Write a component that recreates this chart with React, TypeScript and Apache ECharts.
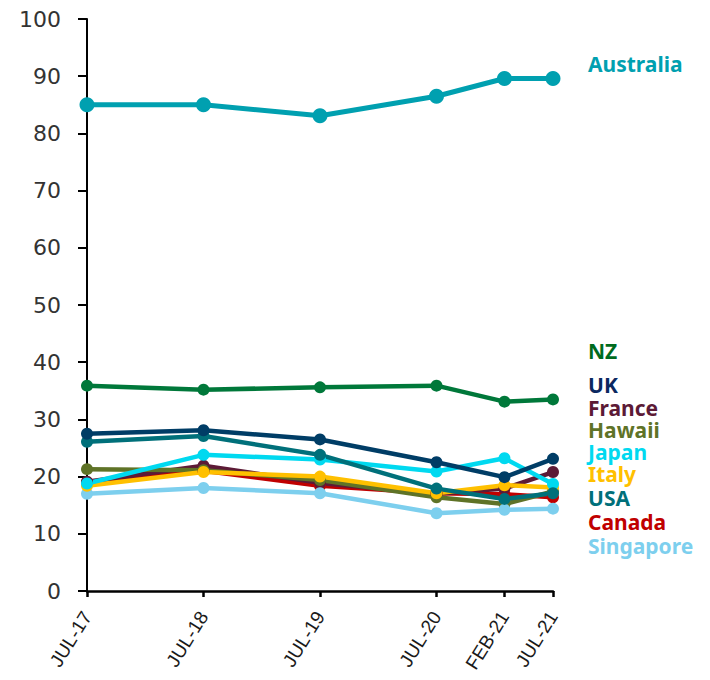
import React, { useEffect, useRef } from "react";
import * as echarts from "echarts";

// month offsets from Jul-17 for each observation
const monthIndex = [0, 12, 24, 36, 43, 48];
const tickLabels = ["JUL-17", "JUL-18", "JUL-19", "JUL-20", "FEB-21", "JUL-21"];

const australia = [85.0, 85.0, 83.1, 86.5, 89.6, 89.6];
const nz = [35.9, 35.2, 35.6, 35.9, 33.1, 33.5];
const uk = [27.5, 28.1, 26.5, 22.5, 19.9, 23.1];
const france = [19.1, 21.9, 18.9, 17.0, 17.9, 20.8];
const hawaii = [21.3, 21.1, 19.4, 16.4, 15.2, 17.4];
const japan = [18.8, 23.8, 23.0, 20.9, 23.2, 18.7];
const italy = [18.4, 20.8, 20.0, 17.1, 18.5, 18.1];
const usa = [26.1, 27.1, 23.8, 17.9, 16.1, 17.1];
const canada = [19.0, 21.0, 18.4, 17.1, 16.9, 16.4];
const singapore = [17.0, 18.0, 17.1, 13.6, 14.2, 14.4];

const seriesDefs = [
  { name: "Canada", data: canada, color: "#C00000" },
  { name: "France", data: france, color: "#5C1A36" },
  { name: "Hawaii", data: hawaii, color: "#5F7327" },
  { name: "Singapore", data: singapore, color: "#7DCFEE" },
  { name: "Italy", data: italy, color: "#FFC000" },
  { name: "Japan", data: japan, color: "#00D9F0" },
  { name: "USA", data: usa, color: "#00707A" },
  { name: "UK", data: uk, color: "#003D66" },
  { name: "NZ", data: nz, color: "#00783A" },
  { name: "Australia", data: australia, color: "#00A0B0" },
];

const labelDefs = [
  { name: "Australia", y: 64, color: "#00A0B0" },
  { name: "NZ", y: 351, color: "#006B1E" },
  { name: "UK", y: 385, color: "#0B2860" },
  { name: "France", y: 408, color: "#5C1A36" },
  { name: "Hawaii", y: 430, color: "#5F7327" },
  { name: "Japan", y: 452, color: "#00D9F0" },
  { name: "Italy", y: 474, color: "#FFC000" },
  { name: "USA", y: 498, color: "#00707A" },
  { name: "Canada", y: 522, color: "#C00000" },
  { name: "Singapore", y: 546, color: "#7DCFEE" },
];

const monthsTotal = 49;

export default function App() {
  const ref = useRef<HTMLDivElement>(null);
  useEffect(() => {
    document.body.style.margin = "0";
    if (!ref.current) return;
    const chart = echarts.init(ref.current, undefined, { renderer: "svg" });
    const cats: string[] = [];
    for (let i = 0; i < monthsTotal; i++) {
      const k = monthIndex.indexOf(i);
      cats.push(k >= 0 ? tickLabels[k] : "m" + i);
    }
    const isTick = (i: number) => monthIndex.indexOf(i) >= 0;
    const series = seriesDefs.map((s) => {
      const arr: (number | null)[] = new Array(monthsTotal).fill(null);
      monthIndex.forEach((m, j) => (arr[m] = s.data[j]));
      const big = s.name === "Australia";
      return {
        type: "line",
        name: s.name,
        data: arr,
        connectNulls: true,
        symbol: "circle",
        symbolSize: big ? 15 : 12,
        showSymbol: true,
        lineStyle: { color: s.color, width: big ? 5 : 4.5 },
        itemStyle: { color: s.color },
        emphasis: { disabled: true },
      };
    });
    chart.setOption({
      animation: false,
      grid: { left: 87, right: 157, top: 19, bottom: 89, containLabel: false },
      xAxis: {
        type: "category",
        data: cats,
        boundaryGap: false,
        axisLine: { lineStyle: { color: "#000", width: 2.5 } },
        axisTick: {
          interval: (i: number) => isTick(i),
          length: 6,
          lineStyle: { color: "#000", width: 2.5 },
        },
        axisLabel: {
          interval: (i: number) => isTick(i),
          rotate: 58,
          fontSize: 19,
          color: "#1a1a1a",
          fontFamily: "Liberation Sans",
          margin: 22,
        },
        splitLine: { show: false },
      },
      yAxis: {
        type: "value",
        min: 0,
        max: 100,
        interval: 10,
        axisLine: { show: true, lineStyle: { color: "#000", width: 2 } },
        axisTick: { show: true, length: 9, lineStyle: { color: "#000", width: 2 } },
        axisLabel: { fontSize: 22, color: "#333", fontFamily: "DejaVu Sans", margin: 26 },
        splitLine: { show: false },
      },
      series,
      graphic: labelDefs.map((l) => ({
        type: "text",
        left: 588,
        top: l.y - 11,
        style: {
          text: l.name,
          fill: l.color,
          font: "bold 21px 'Noto Sans'",
          lineHeight: 21,
        },
      })),
    });
    return () => chart.dispose();
  }, []);
  return <div ref={ref} style={{ width: 710, height: 680 }} />;
}
